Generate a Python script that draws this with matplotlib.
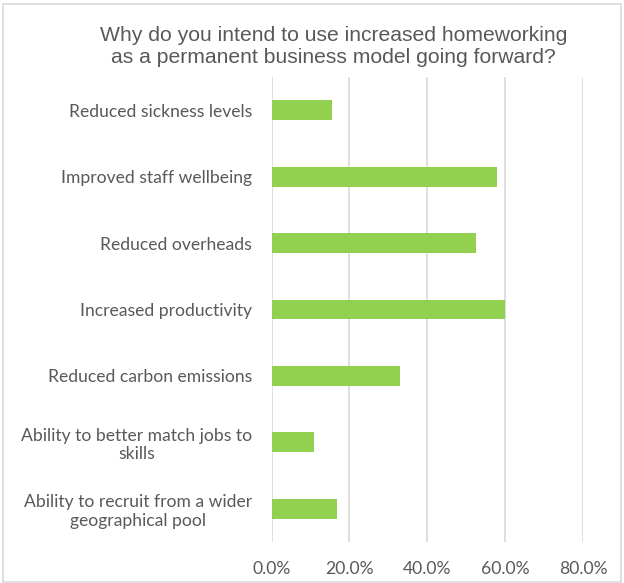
import matplotlib
matplotlib.use('Agg')
import matplotlib.pyplot as plt
from matplotlib.patches import Rectangle
from matplotlib.ticker import PercentFormatter

# data (top to bottom)
categories = ['Reduced sickness levels',
              'Improved staff wellbeing',
              'Reduced overheads',
              'Increased productivity',
              'Reduced carbon emissions',
              'Ability to better match jobs to\nskills',
              'Ability to recruit from a wider\ngeographical pool']
values = [15.6, 57.8, 52.6, 60.0, 33.0, 10.9, 16.8]
xticks = [0, 20, 40, 60, 80]

title = 'Why do you intend to use increased homeworking\nas a permanent business model going forward?'
grey = '#595959'
green = '#92D050'

fig = plt.figure(figsize=(6.24, 5.83), dpi=100)
ax = fig.add_axes([271.5 / 624, 1 - 542 / 583, (583 - 271.5) / 624, (542 - 77) / 583])

pos = list(range(len(categories)))
ax.barh(pos, values, height=0.3, color=green, zorder=3)
ax.set_ylim(len(categories) - 0.5, -0.5)
ax.set_xlim(0, 80)

ax.set_xticks(xticks)
ax.xaxis.set_major_formatter(PercentFormatter(decimals=1))
ax.set_yticks(pos)
ax.set_yticklabels(categories, multialignment='center')
ax.tick_params(axis='both', length=0, colors=grey, labelsize=12.6)
ax.tick_params(axis='y', pad=14)
ax.tick_params(axis='x', pad=14)
for lbl in ax.get_xticklabels() + ax.get_yticklabels():
    lbl.set_family('Lato')

ax.grid(axis='x', color='#d9d9d9', linewidth=1.2, zorder=0)
for s in ax.spines.values():
    s.set_visible(False)

fig.text(0.535, 1 - 46.5 / 583, title, ha='center', va='center', fontsize=15.2,
         color=grey, family='Liberation Sans', linespacing=1.2)

# light frame around the chart
fig.patches.append(Rectangle((3 / 624, 1 / 583), 618 / 624, 578 / 583, transform=fig.transFigure,
                             fill=False, edgecolor='#d9d9d9', linewidth=1.2))

fig.savefig('out.png', dpi=100)
